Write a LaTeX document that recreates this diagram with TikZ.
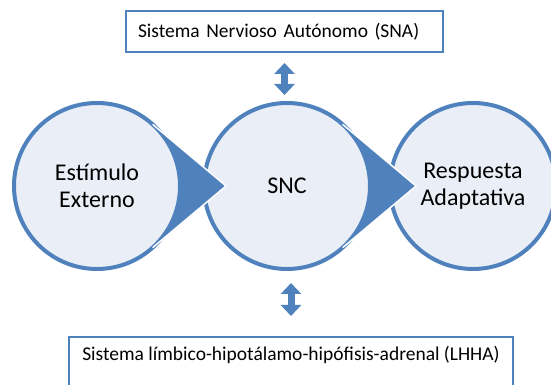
\documentclass[tikz,border=0pt]{standalone}
\usepackage{fontspec}
\setmainfont{Carlito}
\usetikzlibrary{arrows.meta,calc,positioning}
\definecolor{stageblue}{RGB}{79,129,189}
\definecolor{stagefill}{RGB}{234,239,247}

\begin{document}
\begin{tikzpicture}[x=1pt, y=1pt,
    stage/.style={circle, draw=stageblue, line width=4pt, fill=stagefill, minimum size=166pt,
                  inner sep=0pt, outer sep=0pt, align=center, font=\fontsize{24}{27}\selectfont},
    sysbox/.style={draw=stageblue, line width=2pt, fill=white, align=left,
                   font=\fontsize{19.5}{23}\selectfont, inner xsep=12pt},
    tipfill/.style={fill=stageblue},
    tipedge/.style={draw=white, line width=1.5pt, shorten <=3pt, shorten >=3pt},
    updown/.style={draw=stageblue, line width=7pt,
                   {Triangle[width=20pt,length=11pt]}-{Triangle[width=20pt,length=11pt]}}]
    \clip (0,0) rectangle (551,385);

    \node[stage] (resp) at (473,199) {Respuesta\\Adaptativa};
    \node[stage] (snc) at (287,199) {SNC};
    \coordinate (snctip) at ([xshift=129pt]snc.center);
        \fill[tipfill] (snc.50) -- (snctip) -- (snc.-50) arc[start angle=-50, end angle=50, radius=83pt] -- cycle;
        \draw[tipedge] (snc.50) -- (snctip) -- (snc.-50);
    \node[stage] (est) at (97,199) {Estímulo\\Externo};
    \coordinate (esttip) at ([xshift=129pt]est.center);
        \fill[tipfill] (est.50) -- (esttip) -- (est.-50) arc[start angle=-50, end angle=50, radius=83pt] -- cycle;
        \draw[tipedge] (est.50) -- (esttip) -- (est.-50);

    \node[sysbox, minimum height=41pt, text width=293pt] (sna) at (284.5,353.5) {Sistema Nervioso Autónomo (SNA)};
    \node[sysbox, anchor=north west, minimum width=444pt, text depth=30pt, inner ysep=9pt] (lhha) at (68,49)
        {Sistema límbico-hipotálamo-hipófisis-adrenal (LHHA)};

    \draw[updown, shorten <=10pt, shorten >=8pt] (sna.south) -- (sna.south |- snc.north);
    \draw[updown, shorten <=14pt, shorten >=20pt] (lhha.north |- snc.south) -- (lhha.north);
\end{tikzpicture}
\end{document}
